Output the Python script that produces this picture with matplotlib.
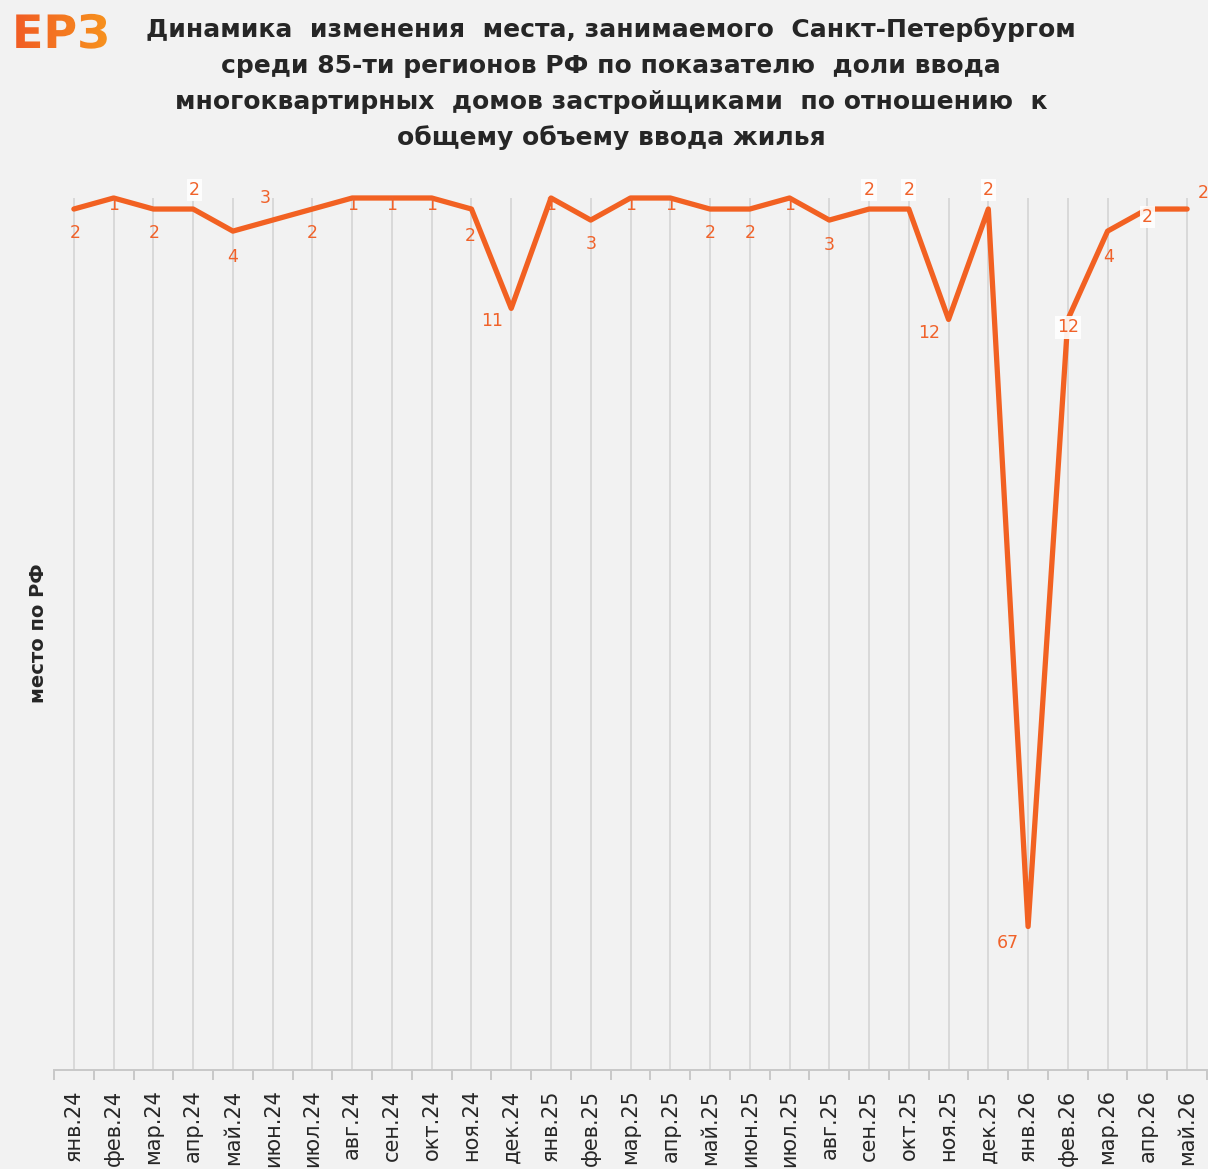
import matplotlib.pyplot as plt
import numpy as np
from matplotlib.textpath import TextPath
from matplotlib.patches import PathPatch
from matplotlib.font_manager import FontProperties
from matplotlib.colors import LinearSegmentedColormap

# monthly data: place of St. Petersburg among 85 regions
months = ['янв.24', 'фев.24', 'мар.24', 'апр.24', 'май.24', 'июн.24', 'июл.24',
          'авг.24', 'сен.24', 'окт.24', 'ноя.24', 'дек.24',
          'янв.25', 'фев.25', 'мар.25', 'апр.25', 'май.25', 'июн.25', 'июл.25',
          'авг.25', 'сен.25', 'окт.25', 'ноя.25', 'дек.25',
          'янв.26', 'фев.26', 'мар.26', 'апр.26', 'май.26']
place = [2, 1, 2, 2, 4, 3, 2, 1, 1, 1, 2, 11,
         1, 3, 1, 1, 2, 2, 1, 3, 2, 2, 12, 2,
         67, 12, 4, 2, 2]

# label offsets in pixels (dx, dy) and whether the label gets a white box
label_offsets = [(1, -24), (0, -7), (1, -24), (1, 19), (0, -26), (-7, 22), (0, -24),
                 (0, -7), (0, -7), (0, -7), (-1, -27), (-19, -13),
                 (0, -7), (0, -24), (0, -7), (0, -7), (0, -24), (0, -24), (0, -7),
                 (0, -25), (0, 19), (0, 19), (-19, -14), (0, 19),
                 (-20, -16), (0, -8), (1, -26), (0, -8), (16, 16)]
label_box = [False, False, False, True, False, False, False,
             False, False, False, False, False,
             False, False, False, False, False, False, False,
             False, True, True, False, True,
             False, True, False, True, False]

bg = '#f2f2f2'
orange = '#f26122'
label_color = '#f0622a'

plt.rcParams['font.family'] = ['DejaVu Sans']

fig = plt.figure(figsize=(12.08, 11.69), dpi=100, facecolor=bg)
W, H = 1208, 1169
ax = fig.add_axes([54 / W, 1 - 1070 / H, (1207 - 54) / W, (1070 - 198) / H])
ax.set_facecolor(bg)

x = np.arange(len(months))
ax.set_xlim(-0.5, len(months) - 0.5)
ax.set_ylim(80, 1)

# vertical gridlines at every month
for xi in x:
    ax.axvline(xi, color='#d9d9d9', lw=1.4, zorder=1)

ax.plot(x, place, color=orange, lw=3.8, solid_joinstyle='round',
        solid_capstyle='round', zorder=3, clip_on=False)

for xi, v, (dx, dy), boxed in zip(x, place, label_offsets, label_box):
    kw = {}
    if boxed:
        kw['bbox'] = dict(boxstyle='square,pad=0.12', fc='white', ec='none', alpha=0.9)
    ax.annotate(str(v), (xi, v), xytext=(dx, dy), textcoords='offset pixels',
                ha='center', va='center', fontsize=12.5, color=label_color,
                zorder=4, annotation_clip=False, **kw)

# category axis: ticks between months, labels under each month
for s in ['top', 'right', 'left']:
    ax.spines[s].set_visible(False)
ax.spines['bottom'].set_color('#c8c8c8')
ax.spines['bottom'].set_linewidth(1.4)
ax.set_yticks([])
ax.set_xticks(x)
ax.set_xticklabels(months, rotation=90, fontsize=15, color='#262626')
ax.tick_params(axis='x', which='major', length=0, pad=14)
ax.set_xticks(np.arange(-0.5, len(months), 1), minor=True)
ax.tick_params(axis='x', which='minor', length=7, width=1.4, color='#c8c8c8')

fig.text(38 / W, 1 - 633 / H, 'место по РФ', rotation=90, ha='center', va='center',
         fontsize=14, fontweight='bold', color='#262626')

title_lines = ['Динамика  изменения  места, занимаемого  Санкт-Петербургом',
               'среди 85-ти регионов РФ по показателю  доли ввода',
               'многоквартирных  домов застройщиками  по отношению  к',
               'общему объему ввода жилья']
for i, line in enumerate(title_lines):
    fig.text(611 / W, 1 - (30 + 36 * i) / H, line, ha='center', va='center',
             fontsize=18, fontweight='bold', color='#262626')

# logo with an orange gradient fill
logo_ax = fig.add_axes([0, 0, 1, 1])
logo_ax.set_xlim(0, W)
logo_ax.set_ylim(0, H)
logo_ax.axis('off')
logo_path = TextPath((12, H - 48), 'ЕРЗ', size=46,
                     prop=FontProperties(family='DejaVu Sans', weight='bold'))
logo_patch = PathPatch(logo_path, fc='none', ec='none')
logo_ax.add_patch(logo_patch)
grad = LinearSegmentedColormap.from_list('logo', ['#f15a24', '#f7931e'])
img = logo_ax.imshow(np.linspace(0, 1, 100).reshape(1, -1), cmap=grad,
                     extent=[10, 110, H - 52, H - 8], aspect='auto')
img.set_clip_path(logo_patch)

fig.savefig('out.png', dpi=100, facecolor=bg)
